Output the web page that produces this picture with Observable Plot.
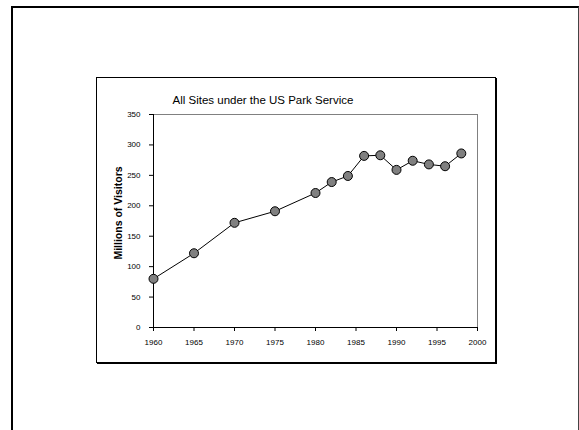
<!DOCTYPE html>
<html><head><meta charset="utf-8">
<script src="https://cdn.jsdelivr.net/npm/d3@7"></script>
<script src="https://cdn.jsdelivr.net/npm/@observablehq/plot@0.6"></script>
<style>
body{margin:0;background:#fff;}
#wrap{position:relative;width:579px;height:430px;overflow:hidden;}
#outer{position:absolute;left:11px;top:6px;width:565px;height:440px;border-left:2px solid #000;border-top:2px solid #000;border-right:1px solid #444;}
#inner{position:absolute;left:96px;top:77px;width:398px;height:284px;border:1px solid #000;box-shadow:1px 1px 0 #000;}
#chart{position:absolute;left:0;top:0;}
</style></head>
<body>
<div id="wrap"><div id="outer"></div><div id="inner"></div><div id="chart"></div></div>
<script>
const title = "All Sites under the US Park Service";
const yLabel = "Millions of Visitors";
const years = [1960, 1965, 1970, 1975, 1980, 1982, 1984, 1986, 1988, 1990, 1992, 1994, 1996, 1998];
const visitors = [80, 122, 172, 191, 221, 239, 249, 282, 283, 259, 274, 268, 265, 286];
const xTicks = [1960, 1965, 1970, 1975, 1980, 1985, 1990, 1995, 2000];
const yTicks = [0, 50, 100, 150, 200, 250, 300, 350];

const data = years.map((y, i) => ({year: y, value: visitors[i]}));

const chart = Plot.plot({
  width: 579, height: 430,
  marginLeft: 153, marginRight: 102, marginTop: 114, marginBottom: 103,
  style: {background: "transparent", fontFamily: "'Liberation Sans', Arial, sans-serif", fontSize: "8px", color: "#000"},
  x: {domain: [1960, 2000]},
  y: {domain: [0, 350]},
  marks: [
    Plot.frame({stroke: "#808080"}),
    Plot.ruleX([1960], {stroke: "#000"}),
    Plot.ruleY([0], {stroke: "#000"}),
    Plot.axisX({ticks: xTicks, tickFormat: d => String(d), tickSize: 4, tickPadding: 8, label: null, fontSize: 8, style: {letterSpacing: "1.5px"}}),
    Plot.axisY({ticks: yTicks, tickSize: 4, tickPadding: 9, label: null, fontSize: 8, style: {letterSpacing: "1px"}}),
    Plot.text([yLabel], {frameAnchor: "left", textAnchor: "middle", rotate: -90, dx: -35, dy: -8, fontSize: 10.5, fontWeight: "bold", fill: "#000"}),
    Plot.line(data, {x: "year", y: "value", stroke: "#000", strokeWidth: 1}),
    Plot.dot(data, {x: "year", y: "value", r: 4.5, fill: "#808080", stroke: "#000", strokeWidth: 1}),
    Plot.text([title], {frameAnchor: "top-left", dx: 19, dy: -11, textAnchor: "start", lineAnchor: "bottom", fontSize: 11.5, fill: "#000"})
  ]
});
document.getElementById("chart").appendChild(chart);
</script>
</body></html>
